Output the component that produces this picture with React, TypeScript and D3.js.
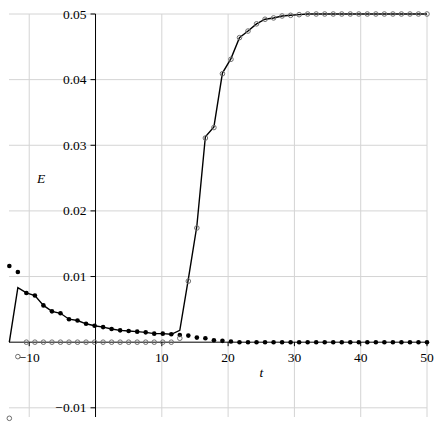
import React from 'react';
import * as d3 from 'd3';

const tValues = [
  -13, -11.714, -10.429, -9.143, -7.857, -6.571, -5.286, -4, -2.714, -1.429,
  -0.143, 1.143, 2.429, 3.714, 5, 6.286, 7.571, 8.857, 10.143, 11.429,
  12.714, 14, 15.286, 16.571, 17.857, 19.143, 20.429, 21.714, 23, 24.286,
  25.571, 26.857, 28.143, 29.429, 30.714, 32, 33.286, 34.571, 35.857, 37.143,
  38.429, 39.714, 41, 42.286, 43.571, 44.857, 46.143, 47.429, 48.714, 50,
];

const filledValues = [
  0.0116, 0.0107, 0.0075, 0.0071, 0.0056, 0.0047, 0.0044, 0.0035, 0.0033, 0.0028,
  0.0025, 0.0023, 0.002, 0.0018, 0.0017, 0.0016, 0.0015, 0.0013, 0.0013, 0.0012,
  0.0011, 0.001, 0.0007, 0.0006, 0.0003, 0.0002, 0.0001, 0, 0, 0,
  0, 0, 0, 0, 0, 0, 0, 0, 0, 0,
  0, 0, 0, 0, 0, 0, 0, 0, 0, 0,
];

const openValues = [
  -0.0116, -0.0022, 0, 0, 0, 0, 0, 0, 0, 0,
  0, 0, 0, 0, 0, 0, 0, 0, 0, 0,
  0.0006, 0.0093, 0.0174, 0.0311, 0.0327, 0.0409, 0.0431, 0.0464, 0.0474, 0.0485,
  0.0492, 0.0494, 0.0497, 0.0498, 0.0499, 0.05, 0.05, 0.05, 0.05, 0.05,
  0.05, 0.05, 0.05, 0.05, 0.05, 0.05, 0.05, 0.05, 0.05, 0.05,
];

const lineValues = [
  0, 0.0083, 0.0075, 0.0071, 0.0056, 0.0047, 0.0044, 0.0035, 0.0033, 0.0028,
  0.0025, 0.0023, 0.002, 0.0018, 0.0017, 0.0016, 0.0015, 0.0013, 0.0013, 0.0012,
  0.0018, 0.0096, 0.0177, 0.0313, 0.0328, 0.041, 0.0432, 0.0464, 0.0474, 0.0485,
  0.0492, 0.0494, 0.0497, 0.0498, 0.0499, 0.05, 0.05, 0.05, 0.05, 0.05,
  0.05, 0.05, 0.05, 0.05, 0.05, 0.05, 0.05, 0.05, 0.05, 0.05,
];

const xTicks = [-10, 10, 20, 30, 40, 50];
const xTickLabels = ['\u221210', '10', '20', '30', '40', '50'];
const yTicks = [-0.01, 0.01, 0.02, 0.03, 0.04, 0.05];
const yTickLabels = ['\u22120.01', '0.01', '0.02', '0.03', '0.04', '0.05'];

const W = 440;
const H = 427;
const FONT = "'Liberation Serif', 'DejaVu Serif', serif";

export default function App() {
  const x = d3.scaleLinear().domain([-13.05, 50]).range([9, 427]);
  const y = d3.scaleLinear().domain([-0.0114, 0.05]).range([417, 14]);
  const x0 = x(0);
  const y0 = y(0);
  const [xl, xr] = x.range();
  const [yb, yt] = y.range();

  const lineGen = d3
    .line<number>()
    .x((_, i) => x(tValues[i]))
    .y((d) => y(d));

  const txt = { fontFamily: FONT, fontSize: '13.5px', fill: '#000' } as React.CSSProperties;
  const ital = { ...txt, fontStyle: 'italic' } as React.CSSProperties;

  return (
    <svg
      width={W}
      height={H}
      style={{ position: 'absolute', left: 0, top: 0, background: '#fff' }}
    >
      <rect x={0} y={0} width={W} height={H} fill="#fff" />
      <g stroke="#d4d4d4" strokeWidth={1}>
        {xTicks.map((t) => (
          <line key={'gx' + t} x1={x(t)} x2={x(t)} y1={yt} y2={yb} />
        ))}
        {yTicks.map((v) => (
          <line key={'gy' + v} x1={xl} x2={xr} y1={y(v)} y2={y(v)} />
        ))}
      </g>
      <g stroke="#000" strokeWidth={1}>
        <line x1={x0} x2={x0} y1={yt} y2={yb} />
        <line x1={xl} x2={xr} y1={y0} y2={y0} />
        {yTicks.map((v) => (
          <line key={'ty' + v} x1={x0 - 5} x2={x0} y1={y(v)} y2={y(v)} />
        ))}
        {xTicks.map((t) => (
          <line key={'tx' + t} x1={x(t)} x2={x(t)} y1={y0} y2={y0 + 4} />
        ))}
      </g>
      <g>
        {yTicks.map((v, i) => (
          <text
            key={'ly' + v}
            x={x0 - 9}
            y={y(v)}
            textAnchor="end"
            dominantBaseline="central"
            style={txt}
          >
            {yTickLabels[i]}
          </text>
        ))}
        {xTicks.map((t, i) => (
          <text key={'lx' + t} x={x(t)} y={y0 + 20} textAnchor="middle" style={txt}>
            {xTickLabels[i]}
          </text>
        ))}
      </g>
      <text
        x={41}
        y={(yt + y0) / 2}
        textAnchor="middle"
        dominantBaseline="central"
        style={ital}
      >
        E
      </text>
      <text x={(x0 + xr) / 2} y={y0 + 35} textAnchor="middle" style={ital}>
        t
      </text>
      <path d={lineGen(lineValues) || ''} fill="none" stroke="#000" strokeWidth={1.4} />
      <g fill="#000">
        {filledValues.map((v, i) => (
          <circle key={'f' + i} cx={x(tValues[i])} cy={y(v)} r={2.3} />
        ))}
      </g>
      <g fill="none" stroke="#6e6e6e" strokeWidth={1}>
        {openValues.map((v, i) => (
          <circle key={'o' + i} cx={x(tValues[i])} cy={y(v)} r={2.3} />
        ))}
      </g>
    </svg>
  );
}
